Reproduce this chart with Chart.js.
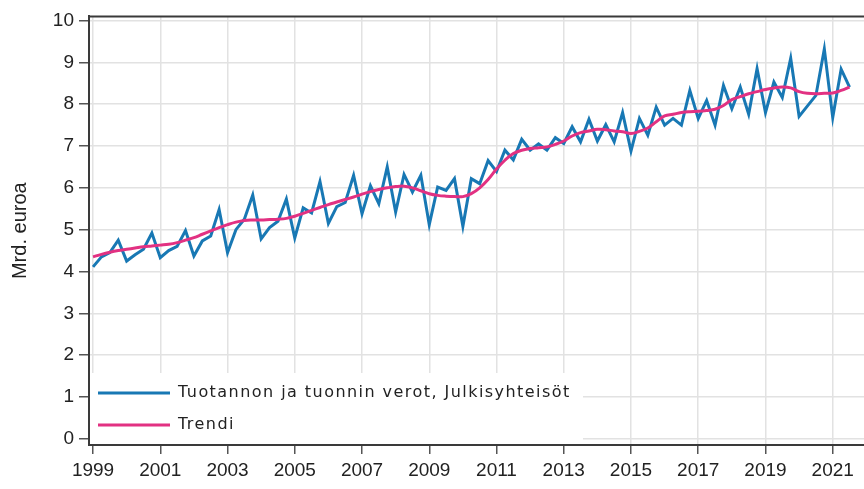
<!DOCTYPE html>
<html>
<head>
<meta charset="utf-8">
<script src="https://cdn.jsdelivr.net/npm/chart.js@4.4.1/dist/chart.umd.min.js"></script>
<style>
html,body{margin:0;padding:0;background:#fff;}
#wrap{width:864px;height:489px;position:relative;}
</style>
</head>
<body>
<div id="wrap"><canvas id="c" width="864" height="489"></canvas></div>
<script>
const startYear = 1999;
const yearTicks = [1999, 2001, 2003, 2005, 2007, 2009, 2011, 2013, 2015, 2017, 2019, 2021];
const valueTicks = [0, 1, 2, 3, 4, 5, 6, 7, 8, 9, 10];
const seriesLabels = ["Tuotannon ja tuonnin verot, Julkisyhteisöt", "Trendi"];
const yTitle = "Mrd. euroa";

const taxes = [
  4.11, 4.35, 4.45, 4.75,
  4.25, 4.40, 4.53, 4.92,
  4.33, 4.50, 4.60, 4.98,
  4.37, 4.73, 4.85, 5.48,
  4.45, 5.00, 5.25, 5.83,
  4.78, 5.05, 5.20, 5.73,
  4.80, 5.52, 5.40, 6.15,
  5.15, 5.55, 5.65, 6.30,
  5.38, 6.05, 5.62, 6.50,
  5.42, 6.32, 5.90, 6.30,
  5.12, 6.02, 5.94, 6.22,
  5.08, 6.22, 6.10, 6.65,
  6.39, 6.90, 6.67, 7.16,
  6.90, 7.05, 6.90, 7.20,
  7.06, 7.46, 7.10, 7.64,
  7.12, 7.51, 7.10, 7.80,
  6.88, 7.66, 7.26, 7.93,
  7.50, 7.66, 7.50, 8.33,
  7.66, 8.09, 7.50, 8.45,
  7.89, 8.41, 7.76, 8.85,
  7.80, 8.53, 8.16, 9.10,
  7.71, 7.96, 8.21, 9.32,
  7.68, 8.84, 8.41
];
const trend = [
  4.35, 4.41, 4.46, 4.50,
  4.53, 4.56, 4.59, 4.61,
  4.63, 4.65, 4.69, 4.75,
  4.81, 4.89, 4.97, 5.05,
  5.12, 5.18, 5.22, 5.23,
  5.23, 5.24, 5.25, 5.27,
  5.32, 5.39, 5.46, 5.53,
  5.60, 5.66, 5.72, 5.78,
  5.85, 5.91, 5.96, 6.00,
  6.03, 6.04, 6.00, 5.93,
  5.86, 5.82, 5.80, 5.79,
  5.79, 5.86, 6.00, 6.20,
  6.45, 6.66, 6.82, 6.90,
  6.94, 6.96, 6.98, 7.04,
  7.12, 7.24, 7.32, 7.36,
  7.40, 7.39, 7.36, 7.34,
  7.30, 7.35, 7.43, 7.58,
  7.72, 7.76, 7.80, 7.82,
  7.83, 7.85, 7.88, 7.97,
  8.11, 8.18, 8.25, 8.30,
  8.35, 8.39, 8.41, 8.39,
  8.30, 8.26, 8.25, 8.26,
  8.27, 8.33, 8.41
];

const toPoints = arr => arr.map((v, i) => ({x: startYear + i / 4, y: v}));

const BLUE = '#1878b4';
const PINK = '#e23182';
const GRID = '#e2e2e2';
const AXIS = '#3a3a3a';
const TEXT = '#222222';

const frameAndLegend = {
  id: 'frameAndLegend',
  afterDatasetsDraw(chart) {
    const {ctx, chartArea: a} = chart;
    ctx.save();
    ctx.strokeStyle = AXIS;
    ctx.lineWidth = 2;
    ctx.beginPath();
    ctx.moveTo(a.left, a.top);
    ctx.lineTo(a.right, a.top);
    ctx.stroke();
    const boxL = a.left + 1, boxT = 373, boxR = 583, boxB = a.bottom - 1;
    ctx.fillStyle = '#ffffff';
    ctx.fillRect(boxL, boxT, boxR - boxL, boxB - boxT);
    const rows = [393, 425];
    chart.data.datasets.forEach((ds, k) => {
      const y = rows[k];
      ctx.strokeStyle = ds.borderColor;
      ctx.lineWidth = 3;
      ctx.beginPath();
      ctx.moveTo(98, y);
      ctx.lineTo(170, y);
      ctx.stroke();
      ctx.fillStyle = TEXT;
      ctx.font = '16px "DejaVu Sans"';
      ctx.letterSpacing = '1.45px';
      ctx.textBaseline = 'middle';
      ctx.textAlign = 'left';
      ctx.fillText(ds.label, 178, y);
    });
    ctx.restore();
  }
};

const tickFont = {family: 'Liberation Sans', size: 19};

new Chart(document.getElementById('c'), {
  type: 'line',
  data: {
    datasets: [
      {label: seriesLabels[0], data: toPoints(taxes), borderColor: BLUE, backgroundColor: BLUE,
       borderWidth: 3, pointRadius: 0, tension: 0, order: 2},
      {label: seriesLabels[1], data: toPoints(trend), borderColor: PINK, backgroundColor: PINK,
       borderWidth: 3, pointRadius: 0, tension: 0.4, order: 1}
    ]
  },
  options: {
    responsive: false,
    animation: false,
    layout: {padding: {top: 14, right: 0, left: 0, bottom: 0}},
    plugins: {legend: {display: false}, tooltip: {enabled: false}},
    scales: {
      x: {
        type: 'linear',
        min: 1998.88,
        max: 2021.93,
        afterBuildTicks: s => { s.ticks = yearTicks.map(v => ({value: v})); },
        afterFit: s => { s.height = 44; },
        grid: {color: GRID, lineWidth: 1.5, tickColor: '#555', tickLength: 9, drawTicks: true},
        border: {display: true, color: AXIS, width: 2},
        ticks: {color: TEXT, font: tickFont, padding: 5, maxRotation: 0,
                autoSkip: false, callback: v => String(v)}
      },
      y: {
        min: -0.15,
        max: 10.1,
        afterBuildTicks: s => { s.ticks = valueTicks.map(v => ({value: v})); },
        afterFit: s => { s.width = 89; },
        grid: {color: GRID, lineWidth: 1.5, tickColor: '#555', tickLength: 10, drawTicks: true},
        border: {display: true, color: AXIS, width: 2},
        title: {display: true, text: yTitle, color: TEXT, font: {family: 'Liberation Sans', size: 20}, padding: {top: 8, bottom: 4}},
        ticks: {color: TEXT, font: tickFont, padding: 5, autoSkip: false}
      }
    }
  },
  plugins: [frameAndLegend]
});
</script>
</body>
</html>
